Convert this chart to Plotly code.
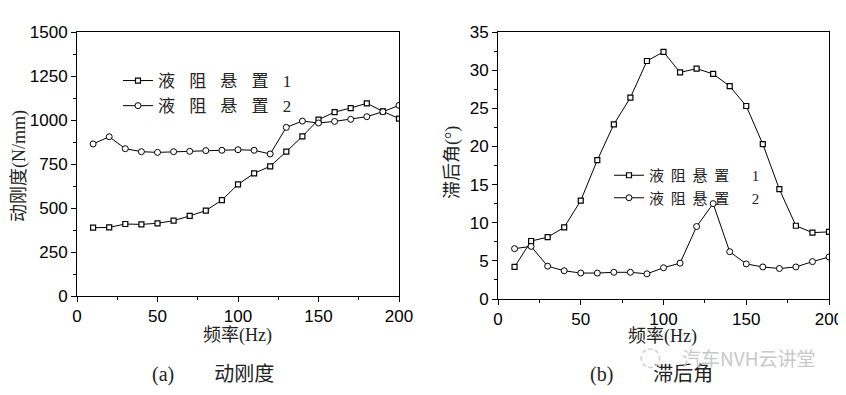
import plotly.graph_objects as go

freq = [10, 20, 30, 40, 50, 60, 70, 80, 90, 100, 110, 120, 130, 140, 150, 160, 170, 180, 190, 200]
stiff_1 = [388, 390, 409, 407, 413, 428, 455, 485, 545, 634, 697, 737, 820, 907, 1002, 1045, 1068, 1095, 1049, 1008]
stiff_2 = [864, 905, 837, 820, 816, 820, 822, 826, 828, 831, 828, 807, 958, 994, 983, 992, 1004, 1019, 1047, 1083]
lag_1 = [4.2, 7.6, 8.1, 9.4, 12.9, 18.2, 22.9, 26.4, 31.2, 32.4, 29.7, 30.2, 29.5, 27.9, 25.3, 20.3, 14.4, 9.6, 8.7, 8.8]
lag_2 = [6.6, 6.9, 4.3, 3.7, 3.4, 3.4, 3.5, 3.5, 3.3, 4.1, 4.7, 9.5, 12.5, 6.2, 4.6, 4.2, 4.0, 4.2, 4.9, 5.5]
label_chars = ["液", "阻", "悬", "置"]
series_ids = ["1", "2"]

SP_A = "\u2002\u2004"
names_a = [SP_A.join(label_chars + [s]) for s in series_ids]
SP_B = "\u2005\u2009"
names_b = [SP_B.join(label_chars) + "\u2003\u2002" + s for s in series_ids]

# the page body has an 8px margin: figure is placed at (8, 8)
W, H, OFF = 838, 387, 8
def px(x):
    return (x - OFF) / W
def py(y):
    return 1 - (y - OFF) / H

TXT = "#222222"
sq = dict(symbol="square", size=5, color="white", line=dict(color="black", width=1.2))
ci = dict(symbol="circle", size=6, color="white", line=dict(color="black", width=1))
ln = dict(color="black", width=1)

fig = go.Figure()
fig.add_trace(go.Scatter(x=freq, y=stiff_1, mode="lines+markers", name=names_a[0], marker=sq, line=ln,
                         xaxis="x", yaxis="y", legend="legend"))
fig.add_trace(go.Scatter(x=freq, y=stiff_2, mode="lines+markers", name=names_a[1], marker=ci, line=ln,
                         xaxis="x", yaxis="y", legend="legend"))
fig.add_trace(go.Scatter(x=freq, y=lag_1, mode="lines+markers", name=names_b[0], marker=sq, line=ln,
                         xaxis="x2", yaxis="y2", legend="legend2"))
fig.add_trace(go.Scatter(x=freq, y=lag_2, mode="lines+markers", name=names_b[1], marker=ci, line=ln,
                         xaxis="x2", yaxis="y2", legend="legend2"))

tickfont = dict(family="Liberation Sans, Arial", size=17, color="black")
SERIF_CJK = "Liberation Serif, Noto Sans CJK SC"
cjk = "Noto Sans CJK SC"

def ax(domain, rng, dtick, minor_dtick, anchor):
    return dict(domain=domain, range=rng, dtick=dtick, tick0=0, showline=True, linecolor="black", linewidth=1,
                mirror=True, ticks="outside", ticklen=5, tickcolor="black", showgrid=False, zeroline=False,
                tickfont=tickfont, anchor=anchor, automargin=False,
                minor=dict(ticks="outside", ticklen=3, dtick=minor_dtick, tickcolor="black", showgrid=False))

fig.update_layout(
    width=W, height=H,
    margin=dict(l=0, r=0, t=0, b=0, autoexpand=False),
    paper_bgcolor="white", plot_bgcolor="white",
    xaxis=ax([px(77), px(399)], [0, 200], 50, 25, "y"),
    yaxis=ax([py(296), py(32)], [0, 1500], 250, 125, "x"),
    xaxis2=ax([px(498), px(829)], [0, 200], 50, 25, "y2"),
    yaxis2=ax([py(299), py(32)], [0, 35], 5, 2.5, "x2"),
    legend=dict(x=px(118), y=py(63), xanchor="left", yanchor="top", bgcolor="rgba(0,0,0,0)",
                font=dict(family=SERIF_CJK, size=17, color=TXT), tracegroupgap=0, itemwidth=30),
    legend2=dict(x=px(609), y=py(159), xanchor="left", yanchor="top", bgcolor="rgba(0,0,0,0)",
                 font=dict(family=SERIF_CJK, size=15, color=TXT), tracegroupgap=0, itemwidth=30),
    showlegend=True,
)

def note(text, x, y, size, family=SERIF_CJK, color=TXT, angle=0, xanchor="center"):
    fig.add_annotation(text=text, x=px(x), y=py(y), xref="paper", yref="paper", xanchor=xanchor,
                       yanchor="middle", showarrow=False, textangle=angle,
                       font=dict(family=family, size=size, color=color))

note("频率(Hz)", 237, 335, 18)
note("频率(Hz)", 662, 336, 18)
note("动刚度(N/mm)", 19, 166, 18, angle=-90)
note("滞后角(°)", 452, 163, 18, angle=-90)
note("(a)\u2003\u2003动刚度", 150, 374, 20, xanchor="left")
note("(b)\u2003\u2003滞后角", 588, 374, 20, xanchor="left")
note("汽车NVH云讲堂", 818, 357, 19, family=cjk, color="#c8c8c8", xanchor="right")
note("◌", 650, 356, 26, family="DejaVu Sans", color="#d0d0d0")

fig.write_html("out.html")
